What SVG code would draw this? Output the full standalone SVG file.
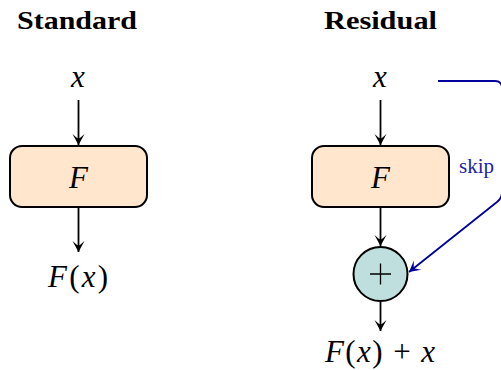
<svg xmlns="http://www.w3.org/2000/svg" width="501" height="370" viewBox="0 0 501 370">
<defs>
<style>
.title{font-family:"Liberation Serif","DejaVu Serif",serif;font-weight:bold;font-size:25px;fill:#000}
.math{font-family:"Liberation Serif","DejaVu Serif",serif;font-style:italic;font-size:31px;fill:#000}
.up{font-style:normal}
.box{fill:#FFE6CC;stroke:#000;stroke-width:2}
.sum{fill:#BFDFDE;stroke:#000;stroke-width:2}
.edge{fill:none;stroke:#000;stroke-width:1.8}
.skip{fill:none;stroke:#00009C;stroke-width:1.8}
.lbl{font-family:"Liberation Serif","DejaVu Serif",serif;font-size:21px;fill:#2323A8}
</style>
<marker id="ah" markerUnits="userSpaceOnUse" markerWidth="16" markerHeight="16" refX="0" refY="0" viewBox="-13 -8 16 16" orient="auto">
<path d="M0,0 L-11,-6 Q-6.5,-1 -6.5,0 Q-6.5,1 -11,6 Z" fill="#000"/>
</marker>
<marker id="ahb" markerUnits="userSpaceOnUse" markerWidth="16" markerHeight="16" refX="0" refY="0" viewBox="-13 -8 16 16" orient="auto">
<path d="M0,0 L-11,-6 Q-6.5,-1 -6.5,0 Q-6.5,1 -11,6 Z" fill="#00009C"/>
</marker>
</defs>
<text class="title" x="77" y="29" text-anchor="middle" textLength="120" lengthAdjust="spacingAndGlyphs">Standard</text>
<text class="title" x="380.5" y="29" text-anchor="middle" textLength="113" lengthAdjust="spacingAndGlyphs">Residual</text>

<g id="std-x"><text class="math" x="78" y="87" text-anchor="middle">x</text></g>
<g id="std-F"><rect class="box" x="10" y="146" width="137" height="61" rx="12"/><text class="math" x="78.5" y="188" text-anchor="middle">F</text></g>
<g id="std-Fx"><text class="math" x="78" y="287" text-anchor="middle" textLength="60" lengthAdjust="spacing">F<tspan class="up">(</tspan>x<tspan class="up">)</tspan></text></g>

<g id="res-x"><text class="math" x="380" y="87" text-anchor="middle">x</text></g>
<g id="res-F"><rect class="box" x="312" y="146" width="137" height="61" rx="12"/><text class="math" x="380.5" y="188" text-anchor="middle">F</text></g>
<g id="res-sum"><circle class="sum" cx="380.5" cy="274" r="27"/><path d="M370,274 H391 M380.5,263.5 V284.5" stroke="#000" stroke-width="1.3"/></g>
<g id="res-out"><text class="math" x="380" y="362" text-anchor="middle" textLength="110" lengthAdjust="spacing">F<tspan class="up">(</tspan>x<tspan class="up">) + </tspan>x</text></g>

<g id="connectors">
<line class="edge" x1="78.5" y1="100" x2="78.5" y2="145" marker-end="url(#ah)"/>
<line class="edge" x1="78.5" y1="208" x2="78.5" y2="252" marker-end="url(#ah)"/>
<line class="edge" x1="380.5" y1="100" x2="380.5" y2="145" marker-end="url(#ah)"/>
<line class="edge" x1="380.5" y1="208" x2="380.5" y2="246" marker-end="url(#ah)"/>
<line class="edge" x1="380.5" y1="302" x2="380.5" y2="331" marker-end="url(#ah)"/>
<path class="skip" d="M438,81 H495 Q502,81 502,88 V192 Q502,198 497,202 L409,272" marker-end="url(#ahb)"/>
<text class="lbl" x="459" y="173">skip</text>
</g>
</svg>
